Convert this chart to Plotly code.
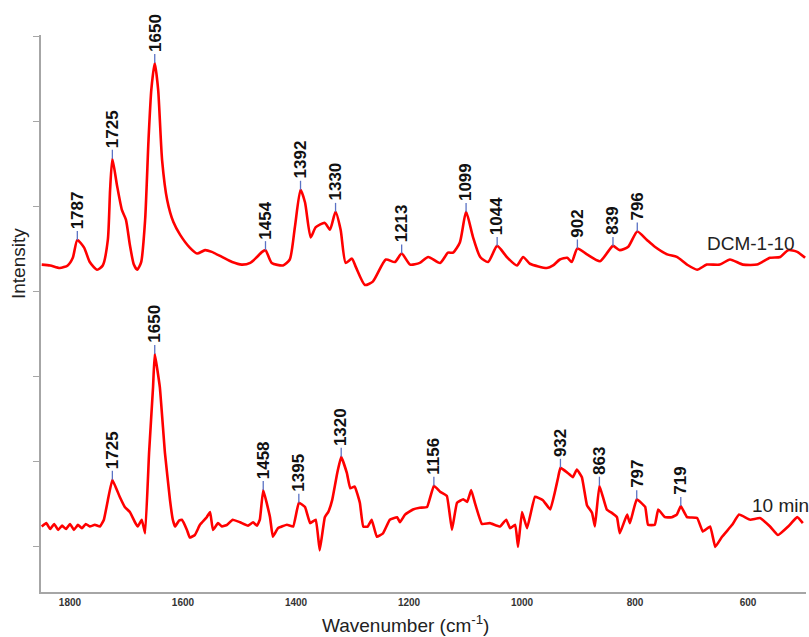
import plotly.graph_objects as go

# Raman spectra, stacked with a vertical offset (arbitrary intensity units)
wn_dcm = [1850, 1835, 1818, 1804, 1795, 1787, 1775, 1765, 1752, 1742, 1733, 1729, 1725, 1717,
          1708, 1701, 1694, 1687, 1681, 1674, 1667, 1661, 1656, 1650, 1644, 1637, 1628, 1617,
          1605, 1588, 1575, 1561, 1549, 1531, 1513, 1496, 1481, 1469, 1460, 1454, 1443, 1423,
          1411, 1402, 1392, 1384, 1374, 1365, 1349, 1340, 1330, 1321, 1312, 1301, 1294, 1278,
          1264, 1241, 1225, 1213, 1198, 1181, 1166, 1145, 1131, 1122, 1110, 1099, 1087, 1074,
          1060, 1044, 1027, 1009, 998, 986, 956, 945, 933, 920, 912, 902, 885, 862, 848, 839,
          827, 812, 796, 779, 765, 743, 726, 708, 690, 673, 650, 632, 609, 584, 561, 543, 529,
          513, 499]
int_dcm = [3.32, 3.31, 3.28, 3.31, 3.40, 3.61, 3.52, 3.35, 3.26, 3.31, 3.61, 4.20, 4.565, 4.26,
           3.96, 3.85, 3.55, 3.32, 3.26, 3.35, 3.85, 4.79, 5.38, 5.69, 5.38, 4.55, 4.08, 3.82,
           3.67, 3.52, 3.45, 3.49, 3.47, 3.41, 3.35, 3.32, 3.34, 3.41, 3.47, 3.49, 3.34, 3.31,
           3.38, 3.76, 4.20, 4.05, 3.64, 3.76, 3.81, 3.73, 3.94, 3.73, 3.34, 3.39, 3.29, 3.08,
           3.12, 3.38, 3.35, 3.45, 3.32, 3.34, 3.41, 3.34, 3.46, 3.46, 3.58, 3.94, 3.65, 3.41,
           3.35, 3.54, 3.41, 3.31, 3.41, 3.33, 3.28, 3.31, 3.38, 3.40, 3.35, 3.51, 3.44, 3.36,
           3.47, 3.54, 3.49, 3.53, 3.71, 3.61, 3.53, 3.44, 3.41, 3.32, 3.26, 3.32, 3.32, 3.38,
           3.32, 3.32, 3.40, 3.41, 3.49, 3.47, 3.40]

wn_10min = [1850, 1842, 1835, 1828, 1821, 1814, 1807, 1800, 1793, 1786, 1779, 1772, 1765, 1756,
            1747, 1740, 1733, 1725, 1712, 1703, 1694, 1685, 1680, 1673, 1667, 1660, 1653, 1650,
            1641, 1632, 1623, 1618, 1614, 1607, 1602, 1593, 1588, 1579, 1570, 1558, 1552, 1547,
            1538, 1531, 1522, 1512, 1499, 1485, 1476, 1469, 1464, 1458,
            1446, 1441, 1432, 1416, 1405, 1395, 1384, 1375, 1365, 1358, 1349, 1343, 1336, 1327,
            1320, 1310, 1304, 1296, 1287, 1281, 1273, 1266, 1257, 1246, 1234, 1221, 1216, 1207,
            1193, 1181, 1168, 1156, 1145, 1133, 1124, 1115, 1104, 1097, 1090, 1083, 1071, 1057,
            1039, 1028, 1021, 1012, 1007, 1000, 991, 977, 963, 950, 942, 936, 932, 919, 910, 903,
            894, 885, 876, 871, 863, 850, 841, 832, 827, 814, 809, 797, 782, 777, 765, 759, 747,
            735, 726, 719, 708, 690, 680, 667, 658, 646, 628, 616, 596, 579, 561, 547, 529, 513,
            503]
int_10min = [0.24, 0.28, 0.21, 0.27, 0.20, 0.25, 0.21, 0.27, 0.20, 0.26, 0.22, 0.27, 0.24, 0.26,
             0.24, 0.32, 0.55, 0.79, 0.59, 0.47, 0.41, 0.29, 0.24, 0.32, 0.16, 1.11, 1.88, 2.27,
             1.88, 1.11, 0.55, 0.32, 0.24, 0.31, 0.32, 0.20, 0.11, 0.14, 0.26, 0.35, 0.41, 0.20,
             0.28, 0.24, 0.26, 0.32, 0.29, 0.25, 0.29, 0.25, 0.32, 0.67,
             0.35, 0.12, 0.22, 0.26, 0.24, 0.52, 0.47, 0.28, 0.32, -0.04, 0.35, 0.41, 0.55, 0.87,
             1.06, 0.87, 0.69, 0.71, 0.52, 0.24, 0.24, 0.32, 0.12, 0.16, 0.32, 0.35, 0.29, 0.38,
             0.44, 0.46, 0.47, 0.72, 0.65, 0.60, 0.20, 0.52, 0.56, 0.53, 0.67, 0.51, 0.27, 0.28,
             0.24, 0.32, 0.22, 0.26, 0.00, 0.41, 0.22, 0.59, 0.55, 0.44, 0.64, 0.82, 0.93, 0.87,
             0.82, 0.91, 0.82, 0.49, 0.40, 0.24, 0.72, 0.44, 0.40, 0.35, 0.16, 0.38, 0.28, 0.56,
             0.47, 0.26, 0.26, 0.44, 0.35, 0.35, 0.38, 0.48, 0.35, 0.34, 0.18, 0.24, 0.00, 0.12,
             0.26, 0.38, 0.32, 0.34, 0.24, 0.14, 0.24, 0.35, 0.28]

peaks_dcm = [1787, 1725, 1650, 1454, 1392, 1330, 1213, 1099, 1044, 902, 839, 796]
peaks_10min = [1725, 1650, 1458, 1395, 1320, 1156, 932, 863, 797, 719]

x_ticks = [1800, 1600, 1400, 1200, 1000, 800, 600]
y_ticks = [0, 1, 2, 3, 4, 5, 6]

RED = "#ff0000"
TICK_BLUE = "#5a72c4"
Y_RANGE = [-0.53, 6.02]

W, H = 809, 637
L, R, T, B = 41, 3, 35, 45
pw, ph = W - L - R, H - T - B
units_per_px = (Y_RANGE[1] - Y_RANGE[0]) / ph

fig = go.Figure()
for wn, inten, name, smooth in [(wn_dcm, int_dcm, "DCM-1-10", 0.6),
                                (wn_10min, int_10min, "10 min", 0.3)]:
    fig.add_trace(go.Scatter(x=wn, y=inten, mode="lines", name=name,
                             line=dict(color=RED, width=2.6, shape="spline", smoothing=smooth),
                             showlegend=False))

LABEL_SIZE = 17
TICK_PX = 9
annotations = []
tick_x, tick_y = [], []


def peak_labels(wn, inten, peaks):
    for p in peaks:
        y = inten[wn.index(p)]
        tick_x.extend([p, p, None])
        tick_y.extend([y, y + TICK_PX * units_per_px, None])
        text = str(p)
        text_len = len(text) * 0.556 * LABEL_SIZE
        annotations.append(dict(
            x=p, y=y, xref="x", yref="y", text=text, textangle=-90,
            showarrow=False, xanchor="center", yanchor="middle",
            yshift=TICK_PX + 2 + text_len / 2,
            font=dict(family="Arial", size=LABEL_SIZE, color="#111111", weight="bold")))


peak_labels(wn_dcm, int_dcm, peaks_dcm)
peak_labels(wn_10min, int_10min, peaks_10min)

fig.add_trace(go.Scatter(x=tick_x, y=tick_y, mode="lines",
                         line=dict(color=TICK_BLUE, width=1.3), showlegend=False,
                         hoverinfo="skip"))


def px_to_paper(x, y):
    return (x - L) / pw, 1 - (y - T) / ph


# Series names written next to each spectrum
for text, (x, y) in [("DCM-1-10", (705, 243)), ("10 min", (750, 505))]:
    px, py = px_to_paper(x, y)
    annotations.append(dict(x=px, y=py, xref="paper", yref="paper", text=text,
                            showarrow=False, xanchor="left", yanchor="middle",
                            font=dict(family="Arial", size=19, color="#222222")))

# Axis titles
ix, iy = px_to_paper(18, 264)
annotations.append(dict(x=ix, y=iy, xref="paper", yref="paper", text="Intensity",
                        textangle=-90, showarrow=False, xanchor="center", yanchor="middle",
                        font=dict(family="Arial", size=19, color="#222222")))
tx, ty = px_to_paper(405, 624)
annotations.append(dict(x=tx, y=ty, xref="paper", yref="paper",
                        text="Wavenumber (cm<sup>-1</sup>)", showarrow=False,
                        xanchor="center", yanchor="middle",
                        font=dict(family="Arial", size=19, color="#222222")))

fig.update_layout(
    width=W, height=H,
    margin=dict(l=L, r=R, t=T, b=B),
    paper_bgcolor="white", plot_bgcolor="white",
    xaxis=dict(range=[1851.3, 497.4], tickvals=x_ticks, ticks="", showgrid=False,
               zeroline=False, showline=True, linecolor="#a6a6a6", linewidth=1.5,
               tickfont=dict(family="Arial", size=10, color="#333333", weight="bold")),
    yaxis=dict(range=Y_RANGE, tickvals=y_ticks, showticklabels=False, ticks="outside",
               ticklen=6, tickcolor="#a6a6a6", tickwidth=1.2, showgrid=False, zeroline=False,
               showline=True, linecolor="#a6a6a6", linewidth=1.5),
    annotations=annotations,
)

fig.write_html("out.html")
